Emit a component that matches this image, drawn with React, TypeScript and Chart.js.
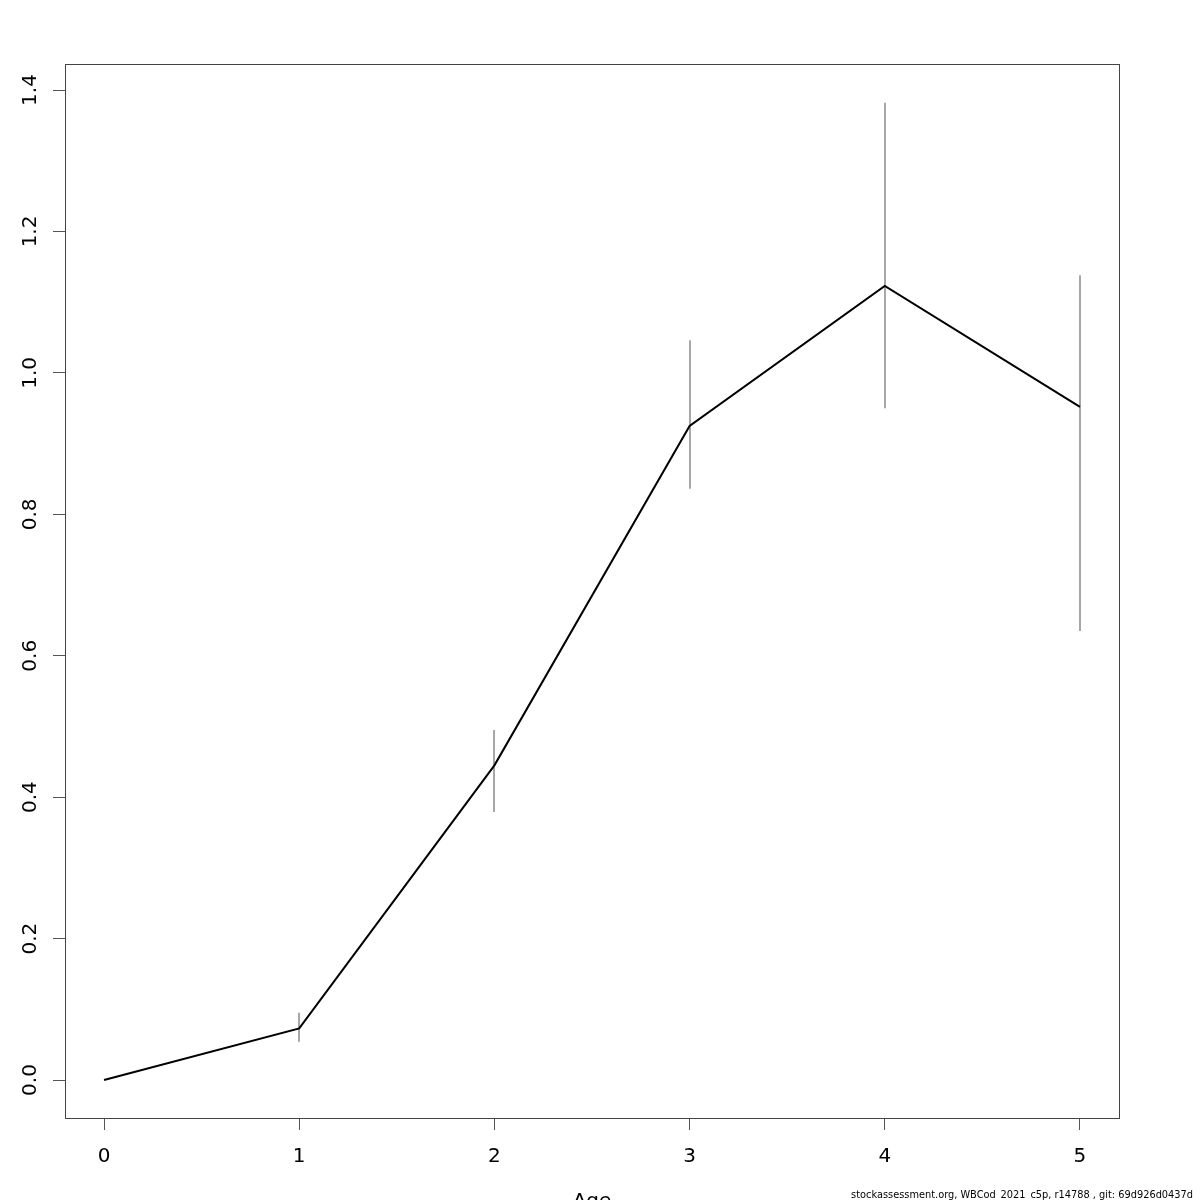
import React, { useEffect, useRef } from "react";
import { Chart, registerables } from "chart.js";

Chart.register(...registerables);

const ages = [0, 1, 2, 3, 4, 5];
const estimate = [0, 0.073, 0.445, 0.925, 1.123, 0.952];
const lower = [null, 0.054, 0.379, 0.836, 0.95, 0.635];
const upper = [null, 0.095, 0.495, 1.046, 1.382, 1.138];
const xTicks = [0, 1, 2, 3, 4, 5];
const yTicks = [0, 0.2, 0.4, 0.6, 0.8, 1.0, 1.2, 1.4];
const xLabel = "Age";
const footer = "stockassessment.org, WBCod_2021_c5p, r14788 , git: 69d926d0437d";

const FONT = "'DejaVu Sans', sans-serif";

const rPlot = {
  id: "rPlot",
  beforeDatasetsDraw(chart: any) {
    const ctx = chart.ctx;
    const a = chart.chartArea;
    ctx.save();
    ctx.strokeStyle = "#444";
    ctx.lineWidth = 1;
    ctx.strokeRect(Math.round(a.left) + 0.5, Math.round(a.top) + 0.5, Math.round(a.right - a.left), Math.round(a.bottom - a.top));
    const xs = chart.scales.x;
    const ys = chart.scales.y;
    ctx.strokeStyle = "#8a8a8a";
    ctx.lineWidth = 1.5;
    for (let i = 0; i < ages.length; i++) {
      if (lower[i] == null || upper[i] == null) continue;
      const px = Math.round(xs.getPixelForValue(ages[i]));
      ctx.beginPath();
      ctx.moveTo(px, ys.getPixelForValue(lower[i] as number));
      ctx.lineTo(px, ys.getPixelForValue(upper[i] as number));
      ctx.stroke();
    }
    ctx.restore();
  },
  afterDraw(chart: any) {
    const ctx = chart.ctx;
    const ys = chart.scales.y;
    const xs = chart.scales.x;
    ctx.save();
    ctx.fillStyle = "#000";
    ctx.font = "20px " + FONT;
    ctx.textAlign = "center";
    ctx.textBaseline = "middle";
    for (const v of yTicks) {
      const py = ys.getPixelForValue(v);
      ctx.save();
      ctx.translate(31, py);
      ctx.rotate(-Math.PI / 2);
      ctx.fillText(v.toFixed(1), 0, 0);
      ctx.restore();
    }
    ctx.textBaseline = "top";
    ctx.fillText(xLabel, (xs.left + xs.right) / 2, 1192);
    ctx.font = "9.8px " + FONT;
    ctx.textAlign = "right";
    ctx.textBaseline = "alphabetic";
    ctx.fillText(footer, 1193, 1198);
    ctx.restore();
  },
};

export default function App() {
  const ref = useRef<HTMLCanvasElement>(null);
  useEffect(() => {
    document.body.style.margin = "0";
    const chart = new Chart(ref.current as HTMLCanvasElement, {
      type: "line",
      data: {
        datasets: [
          {
            data: ages.map((a, i) => ({ x: a, y: estimate[i] })),
            borderColor: "#000",
            borderWidth: 2,
            pointRadius: 0,
            fill: false,
            tension: 0,
          },
        ],
      },
      options: {
        animation: false,
        responsive: false,
        devicePixelRatio: 1,
        layout: { padding: { top: 64, right: 81, left: 0, bottom: 0 } },
        plugins: { legend: { display: false }, tooltip: { enabled: false } },
        scales: {
          x: {
            type: "linear",
            min: -0.2,
            max: 5.2,
            afterBuildTicks: (s: any) => {
              s.ticks = xTicks.map((v) => ({ value: v }));
            },
            afterFit: (s: any) => {
              s.height = 82;
            },
            grid: { drawOnChartArea: false, drawTicks: true, tickLength: 12, color: "#555", lineWidth: 1 },
            border: { display: false },
            ticks: {
              color: "#000",
              font: { family: FONT, size: 20 },
              padding: 15,
              maxRotation: 0,
              callback: (v: any) => String(v),
            },
          },
          y: {
            type: "linear",
            min: -0.0537,
            max: 1.4368,
            afterBuildTicks: (s: any) => {
              s.ticks = yTicks.map((v) => ({ value: v }));
            },
            afterFit: (s: any) => {
              s.width = 65;
            },
            grid: { drawOnChartArea: false, drawTicks: true, tickLength: 12, color: "#555", lineWidth: 1 },
            border: { display: false },
            ticks: { display: false },
          },
        },
      },
      plugins: [rPlot],
    });
    return () => chart.destroy();
  }, []);
  return (
    <div style={{ position: "absolute", left: 0, top: 0, width: 1200, height: 1200, background: "#fff" }}>
      <canvas ref={ref} width={1200} height={1200} />
    </div>
  );
}
